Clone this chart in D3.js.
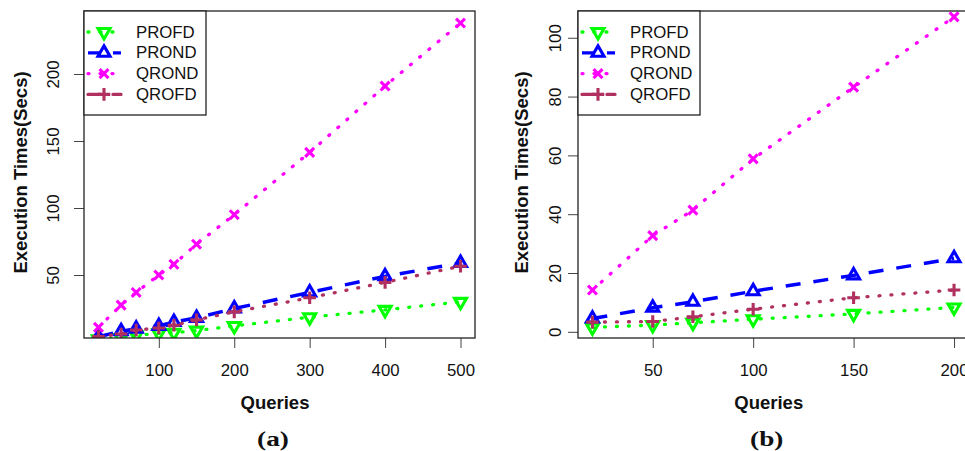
<!DOCTYPE html>
<html lang="en">
  <head>
    <meta charset="UTF-8" />
    <script src="https://d3js.org/d3.v7.min.js"></script>
    <title></title>
    <style>
      body { margin: 0; background: #fff; }
    </style>
  </head>
  <body>
    <div id="my_dataviz"></div>
    <script>
      // series, in drawing order
      const seriesNames = ['PROFD', 'PROND', 'QROND', 'QROFD']

      // panel (a)
      const queriesA = [20, 50, 70, 100, 120, 150, 200, 300, 400, 500]
      const profdA = [2, 3, 5, 6.5, 7, 8.5, 12, 18.5, 24, 30]
      const prondA = [4, 8, 10, 12, 15, 18, 25, 37, 49, 59]
      const qrondA = [11, 27.5, 37, 50, 58, 73, 95, 141.5, 191, 238]
      const qrofdA = [4, 6, 9, 10.5, 12.5, 16.5, 22.5, 33, 44.5, 56.5]
      const xTicksA = [100, 200, 300, 400, 500]
      const yTicksA = [50, 100, 150, 200]

      // panel (b)
      const queriesB = [20, 50, 70, 100, 150, 200]
      const profdB = [1.5, 2.3, 3.1, 4.3, 6.1, 8.3]
      const prondB = [4.5, 8.2, 10.2, 13.8, 19.2, 25]
      const qrondB = [14.2, 32.7, 41.4, 58.8, 83.2, 107.1]
      const qrofdB = [3.3, 3.5, 5.1, 7.7, 11.6, 14.2]
      const xTicksB = [50, 100, 150, 200]
      const yTicksB = [0, 20, 40, 60, 80, 100]

      // look of each series: colour, line dash, legend dash, marker
      const styles = {
        PROFD: { color: '#00ff00', dash: '1 11', cap: 'round', legendDash: '1 11', mark: 'down' },
        PROND: { color: '#0000ff', dash: '15 13', cap: 'butt', legendDash: '13 12', mark: 'up' },
        QROND: { color: '#ff00ff', dash: '1 11', cap: 'round', legendDash: '1 11', mark: 'cross' },
        QROFD: { color: '#b03060', dash: '1 11', cap: 'round', legendDash: '13 12', mark: 'plus' }
      }

      const panels = [
        {
          id: 'a', left: 84, right: 475, top: 11, bottom: 338,
          xDomain: [0.8, 519.2], yDomain: [3, 247],
          xs: queriesA, ys: [profdA, prondA, qrondA, qrofdA],
          xTicks: xTicksA, yTicks: yTicksA,
          yTickX: 53, yTitleX: 20, caption: '(a)'
        },
        {
          id: 'b', left: 578, right: 968.5, top: 11, bottom: 338,
          xDomain: [12.8, 207.2], yDomain: [-2.1, 109.1],
          xs: queriesB, ys: [profdB, prondB, qrondB, qrofdB],
          xTicks: xTicksB, yTicks: yTicksB,
          yTickX: 555, yTitleX: 521.5, caption: '(b)'
        }
      ]

      const svg = d3
        .select('#my_dataviz')
        .append('svg')
        .attr('width', 965)
        .attr('height', 451)
        .style('font-family', "'Liberation Sans', Arial, sans-serif")

      // marker paths, s = symbol radius (R style)
      const s = 4.45
      function markPath(kind) {
        const r = 1.555 * s, xc = 1.347 * s, yc = 0.778 * s
        if (kind === 'up') return `M0,${-r}L${xc},${yc}L${-xc},${yc}Z`
        if (kind === 'down') return `M0,${r}L${xc},${-yc}L${-xc},${-yc}Z`
        if (kind === 'cross') return `M${-s},${-s}L${s},${s}M${-s},${s}L${s},${-s}`
        const p = 1.414 * s
        return `M${-p},0L${p},0M0,${-p}L0,${p}`
      }

      panels.forEach(p => {
        const x = d3.scaleLinear().domain(p.xDomain).range([p.left, p.right])
        const y = d3.scaleLinear().domain(p.yDomain).range([p.bottom, p.top])
        const g = svg.append('g')

        // clip to plot region
        g.append('clipPath')
          .attr('id', 'clip-' + p.id)
          .append('rect')
          .attr('x', p.left)
          .attr('y', p.top)
          .attr('width', p.right - p.left)
          .attr('height', p.bottom - p.top)

        // x axis
        const xAxis = g
          .append('g')
          .attr('transform', `translate(0, ${p.bottom})`)
          .call(d3.axisBottom(x).tickValues(p.xTicks).tickSize(10).tickFormat(d3.format('d')))
        xAxis.select('.domain').remove()
        xAxis.selectAll('line').attr('stroke', '#444')
        xAxis.selectAll('text')
          .attr('y', 32)
          .attr('dy', null)
          .attr('dominant-baseline', 'central')
          .attr('fill', '#111')
          .style('font-size', '16.8px')
          .style('font-family', "'Liberation Sans', Arial, sans-serif")

        // y axis, labels rotated like R
        const yAxis = g
          .append('g')
          .attr('transform', `translate(${p.left}, 0)`)
          .call(d3.axisLeft(y).tickValues(p.yTicks).tickSize(10).tickFormat(d3.format('d')))
        yAxis.select('.domain').remove()
        yAxis.selectAll('line').attr('stroke', '#444')
        yAxis.selectAll('text')
          .attr('x', null)
          .attr('dy', null)
          .attr('text-anchor', 'middle')
          .attr('dominant-baseline', 'central')
          .attr('transform', `translate(${p.yTickX - p.left}, 0) rotate(-90)`)
          .attr('fill', '#111')
          .style('font-size', '16.8px')
          .style('font-family', "'Liberation Sans', Arial, sans-serif")

        // series
        const plot = g.append('g').attr('clip-path', `url(#clip-${p.id})`)
        seriesNames.forEach((name, i) => {
          const st = styles[name]
          const pts = p.xs.map((q, j) => [q, p.ys[i][j]])
          plot.append('path')
            .datum(pts)
            .attr('d', d3.line().x(d => x(d[0])).y(d => y(d[1])))
            .attr('fill', 'none')
            .attr('stroke', st.color)
            .attr('stroke-width', name === 'PROND' ? 3.5 : 3.3)
            .attr('stroke-dasharray', st.dash)
            .attr('stroke-linecap', st.cap)
          plot.selectAll(null)
            .data(pts)
            .join('path')
            .attr('transform', d => `translate(${x(d[0])}, ${y(d[1])})`)
            .attr('d', markPath(st.mark))
            .attr('fill', 'none')
            .attr('stroke', st.color)
            .attr('stroke-width', 3.1)
            .attr('stroke-linejoin', 'miter')
        })

        // box
        g.append('rect')
          .attr('x', p.left)
          .attr('y', p.top)
          .attr('width', p.right - p.left)
          .attr('height', p.bottom - p.top)
          .attr('fill', 'none')
          .attr('stroke', '#222')
          .attr('stroke-width', 1.3)

        // legend
        const lg = g.append('g').attr('transform', `translate(${p.left}, ${p.top})`)
        lg.append('rect')
          .attr('width', 122)
          .attr('height', 104)
          .attr('fill', '#fff')
          .attr('stroke', '#222')
          .attr('stroke-width', 1.3)
        seriesNames.forEach((name, i) => {
          const st = styles[name]
          const ly = 21 + i * 20.8
          lg.append('line')
            .attr('x1', 4).attr('x2', 37)
            .attr('y1', ly).attr('y2', ly)
            .attr('stroke', st.color)
            .attr('stroke-width', 3.3)
            .attr('stroke-dasharray', st.legendDash)
            .attr('stroke-linecap', st.cap)
          lg.append('path')
            .attr('transform', `translate(20, ${ly})`)
            .attr('d', markPath(st.mark))
            .attr('fill', 'none')
            .attr('stroke', st.color)
            .attr('stroke-width', 3.1)
          lg.append('text')
            .attr('x', 52)
            .attr('y', ly)
            .attr('dominant-baseline', 'central')
            .attr('fill', '#111')
            .style('font-size', '16.8px')
            .text(name)
        })

        // titles
        const cx = (p.left + p.right) / 2
        g.append('text')
          .attr('x', cx - 4.5)
          .attr('y', 402)
          .attr('text-anchor', 'middle')
          .attr('dominant-baseline', 'central')
          .attr('font-weight', 'bold')
          .attr('fill', '#111')
          .style('font-size', '18.5px')
          .text('Queries')
        g.append('text')
          .attr('transform', `translate(${p.yTitleX}, ${(p.top + p.bottom) / 2 - 2}) rotate(-90)`)
          .attr('text-anchor', 'middle')
          .attr('dominant-baseline', 'central')
          .attr('font-weight', 'bold')
          .attr('fill', '#111')
          .style('font-size', '18.5px')
          .text('Execution Times(Secs)')
        g.append('text')
          .attr('transform', `translate(${cx - 6.5}, 439) scale(1.3, 1)`)
          .attr('text-anchor', 'middle')
          .attr('dominant-baseline', 'central')
          .attr('font-weight', 'bold')
          .attr('fill', '#111')
          .style('font-family', "'Liberation Serif', 'Times New Roman', serif")
          .style('font-size', '21px')
          .text(p.caption)
      })
    </script>
  </body>
</html>
